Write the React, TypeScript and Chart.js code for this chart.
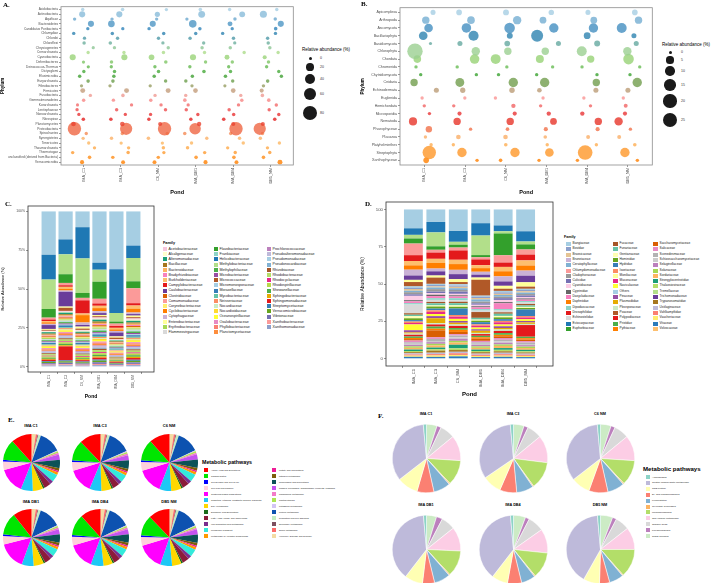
import React, { useEffect, useRef } from "react";
import { Chart, registerables } from "chart.js";

Chart.register(...registerables);

const SANS = "'Liberation Sans', Arial, Helvetica, sans-serif";
const SERIF = "'Liberation Serif', 'Times New Roman', Times, serif";
Chart.defaults.font.family = SANS;
Chart.defaults.color = "#4d4d4d";

// ---------------- sampling sites ----------------
const PONDS = ["IMA_C1", "IMA_C3", "C6_NM", "IMA_DB1", "IMA_DB4", "DB5_NM"];

// ---------------- A. bacterial phyla (relative abundance, %) ----------------
const PHYLA_BACT = [
  "Acidobacteria", "Actinobacteria", "Aquificae", "Bacteroidetes", "Candidatus Poribacteria",
  "Chlamydiae", "Chlorobi", "Chloroflexi", "Chrysiogenetes", "Crenarchaeota", "Cyanobacteria",
  "Deferribacteres", "Deinococcus-Thermus", "Dictyoglomi", "Elusimicrobia", "Euryarchaeota",
  "Fibrobacteres", "Firmicutes", "Fusobacteria", "Gemmatimonadetes", "Korarchaeota",
  "Lentisphaerae", "Nanoarchaeota", "Nitrospirae", "Planctomycetes", "Proteobacteria",
  "Spirochaetes", "Synergistetes", "Tenericutes", "Thaumarchaeota", "Thermotogae",
  "unclassified (derived from Bacteria)", "Verrucomicrobia",
];
const bactIMA_C1 = [1.2, 11, 1.0, 11, 0.8, 1.0, 0.8, 1.2, 0.5, 0.8, 11, 0.6, 0.5, 1.0, 1.2, 1.5, 0.5, 6, 1.0, 1.2, 0.3, 0.8, 0.8, 1.5, 5, 67, 0.8, 0.8, 1.0, 0.8, 1.0, 1.5, 3];
const bactIMA_C3 = [1.5, 11, 1.0, 14, 0.8, 1.2, 1.0, 1.5, 0.8, 1.0, 11, 1.2, 0.8, 1.2, 1.2, 1.5, 0.8, 6, 1.5, 1.0, 0.8, 1.2, 0.8, 1.5, 5, 55, 1.0, 1.2, 0.8, 1.0, 1.2, 1.2, 2.5];
const bactC6_NM = [0.8, 7, 0.8, 11, 1.0, 1.2, 1.0, 0.8, 1.0, 1.2, 9, 1.5, 1.0, 1.5, 1.2, 1.2, 0.8, 6, 1.0, 1.2, 1.0, 1.2, 0.8, 1.2, 3, 67, 1.2, 1.5, 0.8, 1.2, 0.8, 1.2, 2.5];
const bactIMA_DB1 = [1.5, 15, 0.8, 19, 1.2, 1.2, 1.2, 1.0, 1.2, 1.0, 11, 1.0, 1.0, 1.5, 1.2, 1.2, 0.8, 5, 1.0, 1.5, 0.8, 1.2, 1.0, 1.2, 4, 48, 1.2, 1.0, 1.0, 1.2, 1.0, 1.5, 3];
const bactIMA_DB4 = [1.0, 10, 1.2, 6, 0.8, 1.0, 1.2, 0.8, 1.2, 1.0, 6, 1.2, 0.8, 1.2, 1.5, 1.2, 0.5, 5, 1.0, 1.2, 1.0, 1.2, 1.2, 1.5, 3, 67, 1.0, 1.2, 1.2, 0.8, 1.2, 1.5, 2.5];
const bactDB5_NM = [1.0, 16, 1.2, 11, 1.5, 1.0, 1.0, 1.2, 1.2, 1.0, 3, 1.2, 1.0, 1.0, 1.2, 1.5, 1.0, 3, 1.5, 1.5, 1.2, 1.0, 1.2, 1.5, 3, 55, 1.0, 1.2, 1.0, 0.8, 1.2, 1.5, 6];
const BACT_KEY = [0, 20, 40, 60, 80];

// ---------------- B. eukaryotic phyla (relative abundance, %) ----------------
const PHYLA_EUK = [
  "Apicomplexa", "Arthropoda", "Ascomycota", "Bacillariophyta", "Basidiomycota", "Chlorophyta",
  "Chordata", "Chromerida", "Chytridiomycota", "Cnidaria", "Echinodermata", "Euglenida",
  "Hemichordata", "Microsporidia", "Nematoda", "Phaeophyceae", "Placozoa", "Platyhelminthes",
  "Streptophyta", "Xanthophyceae",
];
const eukIMA_C1 = [2.0, 5.6, 8.0, 8.0, 0.1, 28, 6.0, 0.3, 0.3, 5.6, 2.0, 0.3, 0.3, 0.3, 7.0, 3.9, 0.3, 0.3, 21, 2.8];
const eukIMA_C3 = [2.8, 6.0, 10, 11.5, 2.0, 7.5, 10, 0.3, 0.3, 8.5, 2.3, 0.3, 0.3, 1.0, 5.6, 0.3, 1.5, 0.3, 9.7, 0.3];
const eukC6_NM = [3.2, 7.5, 12.7, 3.2, 2.8, 5.6, 11, 0.3, 0.3, 9.7, 2.5, 0.3, 1.2, 1.0, 5.6, 0.5, 1.5, 0.5, 9.7, 0.5];
const eukIMA_DB1 = [2.5, 4.5, 9.7, 16.5, 2.0, 5.6, 6.7, 0.3, 0.3, 9.7, 1.5, 0.3, 0.3, 1.2, 4.5, 1.0, 0.5, 0.3, 8.0, 0.3];
const eukIMA_DB4 = [2.0, 4.5, 9.7, 4.5, 3.2, 11, 5.6, 0.3, 0.3, 5.6, 2.0, 0.3, 0.3, 1.2, 5.6, 1.0, 0.8, 0.3, 25, 0.3];
const eukDB5_NM = [2.8, 5.6, 11, 2.0, 2.0, 7.5, 12.7, 0.3, 0.3, 9.7, 2.0, 0.3, 0.8, 1.0, 7.5, 0.3, 0.8, 0.5, 9.7, 0.3];
const EUK_KEY = [0, 5, 10, 15, 20, 25];

// ---------------- C. bacterial families ----------------
const FAM_BACT = [
  "Acetobacteraceae", "Alcaligenaceae", "Alteromonadaceae", "Bacillaceae", "Bacteroidaceae",
  "Bradyrhizobiaceae", "Burkholderiaceae", "Campylobacteraceae", "Caulobacteraceae", "Clostridiaceae",
  "Comamonadaceae", "Corynebacteriaceae", "Cyclobacteriaceae", "Cytophagaceae", "Enterobacteriaceae",
  "Erythrobacteraceae", "Flammeovirgaceae", "Flavobacteriaceae", "Frankiaceae", "Helicobacteraceae",
  "Methylobacteriaceae", "Methylophilaceae", "Microbacteriaceae", "Micrococcaceae", "Micromonosporaceae",
  "Moraxellaceae", "Mycobacteriaceae", "Neisseriaceae", "Nocardiaceae", "Nocardioidaceae",
  "Oceanospirillaceae", "Oxalobacteraceae", "Phyllobacteriaceae", "Planctomycetaceae", "Prochlorococcaceae",
  "Pseudoalteromonadaceae", "Pseudomonadaceae", "Pseudonocardiaceae", "Rhizobiaceae", "Rhodobacteraceae",
  "Rhodocyclaceae", "Rhodospirillaceae", "Shewanellaceae", "Sphingobacteriaceae", "Sphingomonadaceae",
  "Streptomycetaceae", "Verrucomicrobiaceae", "Vibrionaceae", "Xanthobacteraceae", "Xanthomonadaceae",
];
const FAM_BACT_COLORS = [
  "#f7c6dc", "#ffffcc", "#1b9e77", "#a6761d", "#fdb462", "#f781bf", "#fdbf6f", "#e31a1c", "#6a3d9a",
  "#d95f02", "#fb9a99", "#ffed6f", "#ff7f00", "#cab2d6", "#ffff99", "#a6d854", "#d9d9d9",
  "#33a02c", "#8dd3c7", "#1f78b4", "#b2df8a", "#4daf4a", "#984ea3", "#b15928", "#a6cee3",
  "#377eb8", "#66c2a5", "#fc8d62", "#ccebc5", "#ffd92f", "#ffff33", "#e78ac3", "#fb8072", "#fd8d3c",
  "#bc80bd", "#bebada", "#a6cee3", "#80b1d3", "#a65628", "#b3de69", "#e7298a", "#b8d94a",
  "#4daf4a", "#e6ab02", "#e41a1c", "#377eb8", "#66a61e", "#7570b3", "#fb9a99", "#8da0cb",
];
// most abundant families, stacked from the top of each bar downwards
const FAM_BACT_TOP = [
  "Pseudomonadaceae", "Helicobacteraceae", "Methylobacteriaceae", "Flavobacteriaceae",
  "Comamonadaceae", "Campylobacteraceae", "Burkholderiaceae", "Cyclobacteriaceae",
  "Cytophagaceae", "Caulobacteraceae", "Enterobacteriaceae", "Micrococcaceae",
];
const famBactIMA_C1 = [0.5, 0.4, 0.9, 0.7, 0.6, 0.5, 0.8, 1.0, 2.5, 0.7, 1.2, 0.4, 1.0, 0.8, 0.6, 0.6, 0.5, 5.6, 0.3, 16, 19, 0.7, 0.6, 0.6, 0.4, 0.8, 0.5, 0.5, 0.3, 0.5, 0.7, 0.5, 0.6, 0.7, 0.5, 0.7, 28, 0.4, 0.6, 1.0, 0.5, 0.8, 0.7, 0.6, 0.9, 0.5, 0.8, 0.9, 0.6, 0.7];
const famBactIMA_C3 = [0.6, 0.5, 1.0, 0.8, 0.7, 0.6, 1.2, 1.0, 9.5, 0.8, 1.5, 0.5, 1.2, 0.8, 0.8, 0.7, 0.6, 5.6, 0.4, 9.6, 12.8, 0.9, 0.7, 2.0, 0.5, 1.2, 0.6, 0.6, 0.4, 0.5, 0.9, 0.6, 0.7, 0.9, 0.6, 0.8, 18, 0.5, 0.8, 1.2, 0.6, 1.0, 0.9, 0.7, 9.0, 0.6, 0.9, 1.0, 0.7, 0.8];
const famBactC6_NM = [0.5, 0.6, 0.7, 0.6, 0.5, 0.6, 1.0, 8.0, 1.0, 0.7, 1.5, 0.6, 4.5, 1.5, 1.2, 0.6, 0.5, 3.0, 0.4, 19, 21, 0.7, 0.5, 0.8, 0.4, 0.7, 0.5, 0.4, 0.4, 0.6, 0.6, 0.5, 0.6, 0.7, 0.5, 0.6, 9.6, 0.4, 0.6, 0.9, 0.5, 0.8, 0.6, 0.6, 0.8, 0.5, 0.7, 0.7, 0.6, 0.6];
const famBactIMA_DB1 = [0.8, 0.6, 1.2, 0.9, 0.8, 0.7, 1.5, 1.5, 1.2, 0.9, 3.0, 0.6, 2.0, 1.2, 0.8, 0.8, 0.7, 11, 0.5, 4.5, 7.7, 1.0, 0.8, 0.8, 0.6, 1.0, 0.7, 0.7, 0.5, 0.7, 1.0, 0.7, 0.8, 1.0, 0.7, 0.9, 33, 0.6, 0.8, 1.3, 0.7, 1.1, 1.0, 0.8, 1.2, 0.7, 1.0, 1.1, 0.8, 0.9];
const famBactIMA_DB4 = [0.4, 0.4, 0.6, 0.5, 0.4, 0.4, 1.0, 1.2, 2.5, 0.5, 1.5, 0.3, 1.0, 1.0, 0.8, 0.5, 0.4, 1.3, 0.3, 28, 5.5, 0.6, 0.4, 1.0, 0.3, 0.6, 0.4, 0.4, 0.3, 0.4, 0.5, 0.4, 0.5, 0.6, 0.4, 0.5, 37, 0.3, 0.5, 0.7, 0.4, 0.6, 0.5, 0.4, 0.7, 0.4, 0.5, 0.6, 0.4, 0.5];
const famBactDB5_NM = [0.8, 0.7, 1.1, 0.8, 0.8, 0.7, 2.0, 1.5, 1.0, 0.9, 9.6, 0.6, 2.5, 1.0, 1.0, 0.8, 0.7, 4.5, 0.5, 8, 15, 1.0, 0.8, 0.8, 0.6, 1.0, 0.7, 0.7, 0.5, 0.7, 0.9, 0.7, 0.8, 1.0, 0.7, 0.8, 22, 0.6, 0.8, 1.2, 0.7, 1.1, 1.0, 0.8, 1.1, 0.7, 1.0, 1.0, 0.8, 0.9];

// ---------------- D. eukaryotic families ----------------
const FAM_EUK = [
  "Bangiaceae", "Bovidae", "Brassicaceae", "Bruneiaceae", "Ceratophyllaceae", "Chlamydomonadaceae",
  "Cladophoraceae", "Culicidae", "Cyanidiaceae", "Cyprinidae", "Dasycladaceae", "Daphniidae",
  "Dipodascaceae", "Drosophilidae", "Echinostelidae", "Ectocarpaceae", "Euphorbiaceae",
  "Fucaceae", "Funariaceae", "Gentianaceae", "Hominidae", "Hydridae", "Isoetaceae", "Moniliaceae",
  "Mucoraceae", "Naviculaceae", "Others", "Pinaceae", "Plasmodiidae", "Pleosporaceae", "Poaceae",
  "Polypodiaceae", "Pristidae", "Pythiaceae",
  "Saccharomycetaceae", "Salicaceae", "Scenedesmaceae", "Schizosaccharomycetaceae", "Selaginellaceae",
  "Solanaceae", "Sordariaceae", "Strongylocentrotidae", "Thalassiosiraceae", "Tremellaceae",
  "Trichomonadaceae", "Trypanosomatidae", "Ustilaginaceae", "Vahlkampfiidae", "Vaucheriaceae",
  "Vitaceae", "Volvocaceae",
];
const FAM_EUK_COLORS = [
  "#a6cee3", "#8da0cb", "#e5c494", "#cab2d6", "#80b1d3", "#fb9a99", "#999999", "#7570b3", "#fccde5",
  "#666666", "#f781bf", "#ff7f00", "#8dd3c7", "#e31a1c", "#d9d9d9", "#1f78b4", "#33a02c",
  "#a65628", "#66c2a5", "#ffffb3", "#66a61e", "#377eb8", "#fc8d62", "#ffff99", "#e7298a", "#ffff33",
  "#a6cee3", "#984ea3", "#e6ab02", "#ccebc5", "#b15928", "#e41a1c", "#4daf4a", "#ff7f00",
  "#d95f02", "#e78ac3", "#b3b3b3", "#cccccc", "#bc80bd", "#a6d854", "#fdb462", "#1b9e77", "#b3de69",
  "#b2df8a", "#6a3d9a", "#a6761d", "#bebada", "#fb8072", "#ffed6f", "#2b7bba", "#fdbf6f",
];
const FAM_EUK_TOP = [
  "Others", "Ectocarpaceae", "Tremellaceae", "Euphorbiaceae", "Chlamydomonadaceae", "Drosophilidae",
  "Volvocaceae", "Daphniidae", "Bruneiaceae", "Trichomonadaceae", "Moniliaceae", "Poaceae",
];
const famEukIMA_C1 = [1.0, 0.8, 1.2, 4, 1.0, 8, 1.5, 1.0, 3.0, 0.8, 1.2, 3, 1.0, 4, 6.0, 4.5, 3.5, 1.0, 1.0, 1.5, 1.2, 1.0, 1.0, 1.5, 1.0, 4.0, 13, 1.5, 0.8, 0.8, 3, 1.2, 1.0, 0.8, 1.0, 1.2, 1.0, 0.8, 1.0, 1.0, 1.2, 1.0, 0.8, 2.5, 3, 0.8, 0.8, 0.8, 0.8, 1.2, 3];
const famEukIMA_C3 = [0.8, 1.0, 0.8, 2, 1.2, 2, 1.8, 1.0, 1.2, 1.0, 1.5, 4, 1.2, 4.5, 1.5, 7.5, 2.5, 1.0, 1.5, 0.8, 1.5, 1.2, 1.2, 1.5, 1.5, 1.5, 9, 1.5, 3.5, 1.0, 4.5, 1.5, 1.5, 1.2, 5.0, 1.2, 1.5, 0.8, 1.2, 1.2, 1.5, 1.2, 1.0, 10, 3, 1.5, 1.0, 1.0, 1.0, 1.2, 3];
const famEukC6_NM = [1.0, 0.8, 1.0, 3, 1.2, 2, 1.2, 1.5, 1.0, 0.8, 1.2, 4, 1.5, 6.5, 1.0, 7.5, 2, 1.0, 1.5, 1.0, 1.2, 4.5, 1.2, 2, 1.5, 1.5, 15, 1.2, 1.2, 1.0, 1.5, 1.5, 1.2, 1.5, 1.5, 1.0, 1.2, 1.0, 1.5, 1.2, 1.5, 2.5, 1.2, 2, 3.5, 1.2, 1.0, 1.2, 1.0, 1.5, 3];
const famEukIMA_DB1 = [0.8, 0.8, 1.0, 2, 1.5, 1.5, 1.2, 1.0, 1.0, 0.8, 1.2, 2.5, 1.0, 4, 1.0, 8.5, 1.5, 4.0, 1.2, 0.8, 1.0, 1.5, 1.0, 1.5, 1.2, 1.2, 9.5, 1.0, 1.5, 0.8, 11, 1.2, 1.0, 1.0, 1.5, 1.0, 1.0, 0.8, 1.0, 1.0, 1.2, 1.0, 0.8, 13.5, 2, 1.0, 0.8, 0.8, 0.8, 1.0, 2];
const famEukIMA_DB4 = [1.0, 1.0, 0.8, 3.5, 1.2, 5, 1.0, 1.2, 1.5, 0.8, 4.0, 3.5, 1.0, 3, 1.2, 4, 15, 1.0, 1.5, 1.0, 1.2, 1.2, 1.0, 2, 1.5, 1.2, 11, 1.2, 1.0, 1.0, 1.5, 1.5, 1.2, 1.0, 1.2, 1.2, 1.0, 1.0, 1.2, 1.0, 1.5, 1.2, 1.0, 1.5, 3, 1.0, 1.0, 1.0, 0.8, 1.2, 3];
const famEukDB5_NM = [0.8, 0.8, 1.0, 3.5, 1.0, 3.5, 1.0, 1.0, 1.0, 0.8, 1.0, 3.5, 1.0, 4, 1.0, 7, 3.5, 1.0, 1.0, 0.8, 1.0, 4.5, 1.0, 3, 1.2, 1.2, 15, 1.0, 1.0, 0.8, 1.5, 8.0, 1.0, 1.0, 1.0, 1.0, 1.0, 0.8, 1.0, 1.0, 1.2, 1.0, 0.8, 2, 4.5, 0.8, 0.8, 0.8, 0.8, 1.0, 3.5];

// ---------------- E. metabolic pathways (SEED level 1, %) ----------------
const PATHWAYS = [
  "Amino Acids and Derivatives", "Carbohydrates", "Cell Division and Cell Cycle", "Cell Wall and Capsule",
  "Clustering-based subsystems", "Cofactors, Vitamins, Prosthetic Groups, Pigments", "DNA Metabolism",
  "Dormancy and Sporulation", "Fatty Acids, Lipids, and Isoprenoids", "Iron acquisition and metabolism",
  "Membrane Transport", "Metabolism of Aromatic Compounds", "Motility and Chemotaxis", "Nitrogen Metabolism",
  "Nucleosides and Nucleotides", "Phages, Prophages, Transposable elements, Plasmids",
  "Phosphorus Metabolism", "Photosynthesis", "Potassium metabolism", "Protein Metabolism",
  "Regulation and Cell signaling", "Secondary Metabolism", "Sulfur Metabolism", "Virulence, Disease and Defense",
];
const PATHWAY_COLORS = [
  "#ff0000", "#00e600", "#0000ff", "#ffd1dc", "#ff00ff", "#1ec8f5", "#ffd700", "#1a6b1a", "#8b1c3a",
  "#7a2e8e", "#33eadb", "#ff9900", "#ee1c96", "#7c5c0a", "#0b5257", "#c552f0", "#f37bc8", "#aee552",
  "#d4c4f4", "#0d52b0", "#c2ecc2", "#7d4f5f", "#fd6a6a", "#f3dca4",
];
const pathIMA_C1 = [12, 12, 1, 5, 15, 7, 6, 1, 4, 2, 4.5, 1.5, 1, 1.5, 5, 3, 1, 1, 0.5, 13, 1.5, 0.5, 1, 2.5];
const pathIMA_C3 = [12.5, 12, 1, 5, 14.5, 7, 6, 1, 4, 2, 4.5, 1.5, 1, 1.5, 5, 3, 1, 1, 0.5, 13.5, 1.5, 0.5, 1, 2.5];
const pathC6_NM = [12, 12.5, 1, 5, 15, 7, 6, 1, 4, 2, 4.5, 1.5, 1, 1.5, 5, 3, 1, 1, 0.5, 13, 1.5, 0.5, 1, 2.5];
const pathIMA_DB1 = [11, 13, 1, 5, 16, 7, 6, 1, 4, 2, 4.5, 1.5, 1, 1.5, 5, 3, 1, 1, 0.5, 13, 1.5, 0.5, 1, 2.5];
const pathIMA_DB4 = [12, 12.5, 1, 5, 15.5, 7.5, 5.5, 1, 4, 2, 4.5, 1.5, 1, 1.5, 5, 3, 1, 1, 0.5, 13, 1.5, 0.5, 1, 2.5];
const pathDB5_NM = [12.5, 12, 1, 5, 15.5, 7, 5.5, 1, 4, 2, 4.5, 1.5, 1, 1.5, 5, 3, 1, 1, 0.5, 13, 1.5, 0.5, 1, 2.5];

// ---------------- F. carbohydrate pathways (%) ----------------
const CARB_PATHWAYS = [
  "Aminosugars", "Central carbohydrate metabolism", "CO2 fixation", "Di- and oligosaccharides",
  "Fermentation", "Glycoside hydrolases", "Monosaccharides", "One-carbon Metabolism", "Organic acids",
  "Polysaccharides", "Sugar alcohols",
];
const CARB_COLORS = ["#8dd3c7", "#bebada", "#ffffb3", "#fb8072", "#80b1d3", "#fdb462", "#b3de69", "#fccde5", "#d9d9d9", "#bc80bd", "#ccebc5"];
const carbIMA_C1 = [1.5, 34, 10, 8, 8, 0.5, 12, 12, 7, 2, 5];
const carbIMA_C3 = [1.5, 33, 9, 8, 8, 0.5, 13, 13, 7, 2, 5];
const carbC6_NM = [1.5, 34, 9, 9, 8, 0.5, 12, 12, 7, 2, 5];
const carbIMA_DB1 = [1.5, 40, 9, 6, 8, 0.5, 13, 12, 7, 3, 5];
const carbIMA_DB4 = [1.5, 40, 8, 7, 7, 0.5, 13, 12, 8, 2, 6];
const carbDB5_NM = [1.5, 42, 8, 5, 7, 0.5, 14, 11, 7, 2, 6];

// ---------------- helpers ----------------
const PAIRED8 = ["#A6CEE3", "#1F78B4", "#B2DF8A", "#33A02C", "#FB9A99", "#E31A1C", "#FDBF6F", "#FF7F00"];

function hexRgb(h: string): number[] {
  const n = parseInt(h.slice(1), 16);
  return [(n >> 16) & 255, (n >> 8) & 255, n & 255];
}
// linear RGB interpolation across the stops, like colorRampPalette
function ramp(stops: string[], n: number): number[][] {
  return Array.from({ length: n }, (_, i) => {
    const t = n === 1 ? 0 : (i * (stops.length - 1)) / (n - 1);
    const k = Math.min(Math.floor(t), stops.length - 2);
    const f = t - k;
    const a = hexRgb(stops[k]);
    const b = hexRgb(stops[k + 1]);
    return a.map((c, m) => Math.round(c + (b[m] - c) * f));
  });
}
const rgba = (c: number[], a: number) => `rgba(${c[0]},${c[1]},${c[2]},${a})`;

// deterministic horizontal jitter in [-1, 1]
function jitter(i: number, j: number, seed: number) {
  const s = Math.sin(i * 127.1 + j * 311.7 + seed * 74.7) * 43758.5453;
  return (s - Math.floor(s)) * 2 - 1;
}

// bubble area grows linearly with abundance
const sizeBact = (v: number) => Math.sqrt(2.25 + 0.638 * v);
const sizeEuk = (v: number) => Math.sqrt(2.25 + 2.04 * v);

const toPercent = (vals: number[]) => {
  const s = vals.reduce((a, b) => a + b, 0);
  return vals.map((v) => (v * 100) / s);
};

const panelBorder = {
  id: "panelBorder",
  afterDatasetsDraw(chart: any, _a: any, opts: any) {
    if (!opts || !opts.color) return;
    const { left, top, right, bottom } = chart.chartArea;
    const ctx = chart.ctx;
    ctx.save();
    ctx.strokeStyle = opts.color;
    ctx.lineWidth = opts.width || 1;
    ctx.strokeRect(left, top, right - left, bottom - top);
    ctx.restore();
  },
};

function indexAxis(labels: string[], o: any) {
  return {
    type: "linear",
    min: -0.6,
    max: labels.length - 0.4,
    reverse: !!o.reverse,
    stacked: !!o.stacked,
    afterBuildTicks: (s: any) => {
      s.ticks = labels.map((_, k) => ({ value: k }));
    },
    afterFit: (s: any) => {
      if (o.width != null) s.width = o.width;
      if (o.height != null) s.height = o.height;
    },
    ticks: {
      autoSkip: false,
      callback: (v: number) => labels[v],
      font: { size: o.font },
      color: "#4d4d4d",
      padding: 1,
      maxRotation: o.rot || 0,
      minRotation: o.rot || 0,
    },
    grid: { drawOnChartArea: false, tickLength: 2, color: "#333333", lineWidth: 0.5 },
    border: { display: false },
    title: {
      display: true,
      text: o.title,
      font: { size: o.titleSize, weight: "bold" },
      color: "#000",
      padding: o.titlePad || 0,
    },
  };
}

function valueAxis(o: any) {
  return {
    type: "linear",
    stacked: true,
    min: o.min,
    max: o.max,
    afterBuildTicks: (s: any) => {
      s.ticks = o.ticks.map((v: number) => ({ value: v }));
    },
    afterFit: (s: any) => {
      s.width = o.width;
    },
    ticks: { callback: o.fmt, font: { size: o.font }, color: "#4d4d4d", padding: 1 },
    grid: { drawOnChartArea: false, tickLength: 2, color: "#333333", lineWidth: 0.5 },
    border: { display: false },
    title: { display: true, text: o.title, font: { size: o.titleSize }, color: "#000", padding: 0 },
  };
}

function bubbleConfig(o: any) {
  const cols = ramp(PAIRED8, o.phyla.length);
  return {
    type: "bubble",
    data: {
      datasets: o.phyla.map((name: string, i: number) => ({
        label: name,
        data: o.series.map((vals: number[], j: number) => ({
          x: j + 0.3 * jitter(i, j, o.seed),
          y: i,
          r: o.size(vals[i]),
        })),
        backgroundColor: rgba(cols[i], 0.8),
        borderWidth: 0,
        hoverRadius: 0,
      })),
    },
    options: {
      animation: false,
      responsive: false,
      events: [],
      layout: { padding: o.pad },
      plugins: {
        legend: { display: false },
        tooltip: { enabled: false },
        panelBorder: { color: "#8c8c8c", width: 0.8 },
      },
      scales: {
        x: indexAxis(PONDS, { height: o.xHeight, font: o.xFont, rot: 90, title: "Pond", titleSize: o.xTitle, titlePad: 0 }),
        y: indexAxis(o.phyla, { width: o.yWidth, font: o.yFont, reverse: true, title: "Phylum", titleSize: o.yTitle }),
      },
    },
    plugins: [panelBorder],
  };
}

function barConfig(o: any) {
  const pct = o.series.map(toPercent);
  const top = o.top.map((n: string) => o.families.indexOf(n));
  const rest = o.families.map((_: string, i: number) => i).filter((i: number) => !top.includes(i));
  const bottomFirst = [...top, ...rest].reverse();
  return {
    type: "bar",
    data: {
      datasets: bottomFirst.map((i: number) => ({
        label: o.families[i],
        data: pct.map((p: number[], j: number) => ({ x: j, y: p[i] })),
        backgroundColor: o.colors[i],
        borderWidth: 0,
        barPercentage: 1,
        categoryPercentage: o.barFrac,
      })),
    },
    options: {
      animation: false,
      responsive: false,
      events: [],
      layout: { padding: o.pad },
      plugins: {
        legend: { display: false },
        tooltip: { enabled: false },
        panelBorder: { color: "#333333", width: 0.8 },
      },
      scales: {
        x: indexAxis(PONDS, { height: o.xHeight, font: o.xFont, rot: 90, stacked: true, title: "Pond", titleSize: o.xTitle }),
        y: valueAxis({ min: o.min, max: o.max, ticks: [0, 25, 50, 75, 100], fmt: o.fmt, width: o.yWidth, font: o.yFont, title: "Relative Abundance (%)", titleSize: o.yTitle }),
      },
    },
    plugins: [panelBorder],
  };
}

function pieConfig(labels: string[], colors: string[], values: number[], border: number) {
  // slices run clockwise from 12 o'clock in reverse legend order
  return {
    type: "pie",
    data: {
      labels: [...labels].reverse(),
      datasets: [
        {
          data: [...values].reverse(),
          backgroundColor: [...colors].reverse(),
          borderColor: "#ffffff",
          borderWidth: border,
          hoverOffset: 0,
          offset: 0,
        },
      ],
    },
    options: {
      animation: false,
      responsive: false,
      events: [],
      layout: { padding: 0 },
      plugins: { legend: { display: false }, tooltip: { enabled: false } },
    },
  };
}

// ---------------- components ----------------
function ChartBox({ make, x, y, w, h }: any) {
  const ref = useRef<HTMLCanvasElement | null>(null);
  useEffect(() => {
    if (!ref.current) return;
    const chart = new Chart(ref.current, make());
    return () => chart.destroy();
  }, []);
  return (
    <div style={{ position: "absolute", left: x, top: y, width: w, height: h }}>
      <canvas ref={ref} width={w} height={h} style={{ display: "block" }} />
    </div>
  );
}

function Text({ x, y, size, children, bold, center, family, color }: any) {
  const style: any = {
    position: "absolute",
    left: x,
    top: y - size * 0.6,
    fontSize: size,
    lineHeight: `${size * 1.2}px`,
    whiteSpace: "nowrap",
    fontFamily: family || SANS,
    fontWeight: bold ? 700 : 400,
    color: color || "#000",
  };
  if (center) style.transform = "translateX(-50%)";
  return <div style={style}>{children}</div>;
}

function SwatchKey({ names, colors, x0, y0, colX, rows, step, sw, sh, gap, font }: any) {
  return (
    <>
      {names.map((n: string, i: number) => {
        const c = Math.floor(i / rows);
        const r = i % rows;
        const x = x0 + colX[c];
        const y = y0 + r * step;
        return (
          <React.Fragment key={n + i}>
            <div style={{ position: "absolute", left: x, top: y - sh / 2, width: sw, height: sh, background: colors[i] }} />
            <Text x={x + sw + gap} y={y} size={font} color="#1a1a1a">
              {n}
            </Text>
          </React.Fragment>
        );
      })}
    </>
  );
}

function SizeKey({ title, breaks, size, x, titleY, ys, labelX }: any) {
  return (
    <>
      <Text x={x} y={titleY} size={4.5}>
        {title}
      </Text>
      {breaks.map((b: number, k: number) => {
        const r = size(b);
        return (
          <React.Fragment key={b}>
            <div
              style={{
                position: "absolute",
                left: x + 8 - r,
                top: ys[k] - r,
                width: 2 * r,
                height: 2 * r,
                borderRadius: "50%",
                background: "#1a1a1a",
              }}
            />
            <Text x={labelX} y={ys[k]} size={3.5} color="#333">
              {b}
            </Text>
          </React.Fragment>
        );
      })}
    </>
  );
}

function PieGrid({ series, labels, colors, centers, r, titleYs, titleSize, border }: any) {
  return (
    <>
      {series.map((vals: number[], k: number) => {
        const [cx, cy] = centers[k];
        const s = Math.round(2 * r + 2);
        return (
          <React.Fragment key={PONDS[k]}>
            <Text x={cx} y={titleYs[Math.floor(k / 3)]} size={titleSize} bold center>
              {PONDS[k].replace("_", " ")}
            </Text>
            <ChartBox make={() => pieConfig(labels, colors, vals, border)} x={cx - s / 2} y={cy - s / 2} w={s} h={s} />
          </React.Fragment>
        );
      })}
    </>
  );
}

export default function App() {
  const bactSeries = [bactIMA_C1, bactIMA_C3, bactC6_NM, bactIMA_DB1, bactIMA_DB4, bactDB5_NM];
  const eukSeries = [eukIMA_C1, eukIMA_C3, eukC6_NM, eukIMA_DB1, eukIMA_DB4, eukDB5_NM];
  const famBactSeries = [famBactIMA_C1, famBactIMA_C3, famBactC6_NM, famBactIMA_DB1, famBactIMA_DB4, famBactDB5_NM];
  const famEukSeries = [famEukIMA_C1, famEukIMA_C3, famEukC6_NM, famEukIMA_DB1, famEukIMA_DB4, famEukDB5_NM];
  const pathSeries = [pathIMA_C1, pathIMA_C3, pathC6_NM, pathIMA_DB1, pathIMA_DB4, pathDB5_NM];
  const carbSeries = [carbIMA_C1, carbIMA_C3, carbC6_NM, carbIMA_DB1, carbIMA_DB4, carbDB5_NM];

  return (
    <div
      style={{
        position: "absolute",
        left: 0,
        top: 0,
        width: 714,
        height: 583,
        background: "#ffffff",
        overflow: "hidden",
        fontFamily: SANS,
      }}
    >
      {/* A */}
      <ChartBox
        x={0}
        y={0}
        w={300}
        h={196}
        make={() =>
          bubbleConfig({
            phyla: PHYLA_BACT, series: bactSeries, size: sizeBact, seed: 1,
            pad: { left: 0, top: 3, right: 6, bottom: 0 }, yWidth: 61, xHeight: 31,
            yFont: 3.2, xFont: 3.8, xTitle: 5.5, yTitle: 4.5,
          })
        }
      />
      <SizeKey title="Relative abundance (%)" breaks={BACT_KEY} size={sizeBact} x={302} titleY={50} ys={[58, 67, 79, 94, 113]} labelX={320} />

      {/* B */}
      <ChartBox
        x={360}
        y={0}
        w={300}
        h={196}
        make={() =>
          bubbleConfig({
            phyla: PHYLA_EUK, series: eukSeries, size: sizeEuk, seed: 7,
            pad: { left: 0, top: 3, right: 6, bottom: 0 }, yWidth: 40, xHeight: 31,
            yFont: 3.6, xFont: 3.8, xTitle: 5.5, yTitle: 4.5,
          })
        }
      />
      <SizeKey title="Relative abundance (%)" breaks={EUK_KEY} size={sizeEuk} x={662} titleY={45} ys={[52, 60, 71, 85, 101, 120]} labelX={681} />

      {/* C */}
      <ChartBox
        x={0}
        y={200}
        w={160}
        h={200}
        make={() =>
          barConfig({
            families: FAM_BACT, colors: FAM_BACT_COLORS, series: famBactSeries, top: FAM_BACT_TOP,
            pad: { left: 0, top: 6, right: 6, bottom: 0 }, yWidth: 28, xHeight: 28,
            min: -3.5, max: 103.5, fmt: (v: number) => `${v}%`, barFrac: 0.84,
            yFont: 3.4, xFont: 3.3, xTitle: 5, yTitle: 4,
          })
        }
      />
      <Text x={163} y={243} size={3.8} bold>
        Family
      </Text>
      <SwatchKey names={FAM_BACT} colors={FAM_BACT_COLORS} x0={163} y0={249} colX={[0, 51, 104]} rows={17} step={5.2} sw={4} sh={4} gap={1.5} font={3.6} />

      {/* D */}
      <ChartBox
        x={360}
        y={198}
        w={200}
        h={200}
        make={() =>
          barConfig({
            families: FAM_EUK, colors: FAM_EUK_COLORS, series: famEukSeries, top: FAM_EUK_TOP,
            pad: { left: 0, top: 4, right: 7, bottom: 0 }, yWidth: 26, xHeight: 32,
            min: -5, max: 105, fmt: (v: number) => `${v}`, barFrac: 0.84,
            yFont: 4.3, xFont: 4.2, xTitle: 6, yTitle: 5,
          })
        }
      />
      <Text x={564} y={237} size={3.6} bold>
        Family
      </Text>
      <SwatchKey names={FAM_EUK} colors={FAM_EUK_COLORS} x0={566} y0={244} colX={[0, 47, 87]} rows={17} step={5.3} sw={5} sh={4} gap={1.5} font={3.2} />

      {/* E */}
      <PieGrid
        series={pathSeries}
        labels={PATHWAYS}
        colors={PATHWAY_COLORS}
        centers={[[31, 462], [100, 462], [169, 462], [31, 537], [100, 537], [169, 537]]}
        r={27.5}
        titleYs={[426, 502]}
        titleSize={4}
        border={0}
      />
      <Text x={202} y={462} size={5.3} bold>
        Metabolic pathways
      </Text>
      <SwatchKey names={PATHWAYS} colors={PATHWAY_COLORS} x0={204} y0={470} colX={[0, 68]} rows={12} step={6} sw={4} sh={4} gap={3} font={2.3} />

      {/* F */}
      <PieGrid
        series={carbSeries}
        labels={CARB_PATHWAYS}
        colors={CARB_COLORS}
        centers={[[426, 458], [513, 458], [600, 458], [426, 549], [513, 549], [600, 549]]}
        r={33.5}
        titleYs={[414, 505]}
        titleSize={3.8}
        border={0.5}
      />
      <Text x={643} y={469} size={6.1} bold>
        Metabolic pathways
      </Text>
      <SwatchKey names={CARB_PATHWAYS} colors={CARB_COLORS} x0={646} y0={477} colX={[0]} rows={11} step={5.9} sw={4} sh={4} gap={2} font={2.5} />

      {/* panel letters */}
      <Text x={3} y={5} size={7} bold family={SERIF}>A.</Text>
      <Text x={361} y={4} size={7} bold family={SERIF}>B.</Text>
      <Text x={5} y={204} size={7} bold family={SERIF}>C.</Text>
      <Text x={365} y={204} size={7} bold family={SERIF}>D.</Text>
      <Text x={8} y={420} size={7} bold family={SERIF}>E.</Text>
      <Text x={378} y={416} size={7} bold family={SERIF}>F.</Text>
    </div>
  );
}
